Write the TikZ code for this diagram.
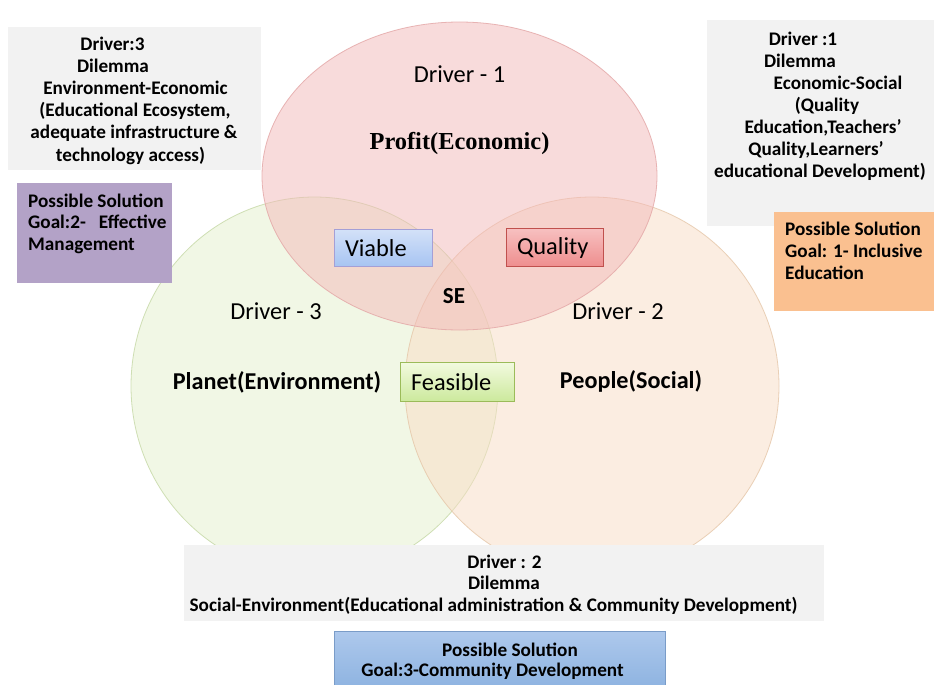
\documentclass[tikz,border=0pt]{standalone}
\usepackage{fontspec}
\setmainfont{Carlito}
\newfontfamily\tnr{Liberation Serif}
\definecolor{grayfill}{HTML}{F2F2F2}
\definecolor{purplefill}{HTML}{B3A2C7}
\definecolor{orangefill}{HTML}{FAC090}
\definecolor{redc}{HTML}{F3B9B9}
\definecolor{redcedge}{HTML}{E3A5A5}
\definecolor{greenc}{HTML}{E5F1CD}
\definecolor{greencedge}{HTML}{C5D8A5}
\definecolor{orangec}{HTML}{F9DDC5}
\definecolor{orangecedge}{HTML}{E5C6A8}
\definecolor{vtop}{HTML}{D3E1F8}
\definecolor{vbot}{HTML}{A7C4F2}
\definecolor{vedge}{HTML}{A49FD6}
\definecolor{qtop}{HTML}{F7C0C0}
\definecolor{qbot}{HTML}{EE8E8E}
\definecolor{qedge}{HTML}{C0504D}
\definecolor{ftop}{HTML}{F2FADF}
\definecolor{fbot}{HTML}{CBE99C}
\definecolor{fedge}{HTML}{9BBB59}
\definecolor{btop}{HTML}{ADC8EC}
\definecolor{bbot}{HTML}{8CB2E0}
\definecolor{bedge}{HTML}{7A9CC8}
\tikzset{
  graybox/.style={rectangle, fill=grayfill, draw=none, inner sep=0pt, anchor=north west},
  boxtxt/.style={inner sep=0pt, font=\fontsize{19.2}{22}\selectfont\bfseries},
  lbl/.style={inner sep=0pt, font=\fontsize{24.4}{28}\selectfont},
  lblb/.style={inner sep=0pt, font=\fontsize{24.2}{28}\selectfont\bfseries},
  tagbox/.style={rectangle, anchor=north west, inner xsep=10.5pt, inner ysep=0pt, align=left,
     font=\fontsize{24.4}{28}\selectfont, line width=1pt},
  venn/.style={fill opacity=0.5, draw opacity=0.8, line width=0.8pt}
}
\begin{document}
\begin{tikzpicture}[x=1pt,y=-1pt]
\useasboundingbox (0,0) rectangle (934,685);
\fill[white] (0,0) rectangle (934,685);
% circles
\draw[venn, fill=greenc, draw=greencedge] (314.5,386) ellipse [x radius=183.5pt, y radius=189pt];
\draw[venn, fill=orangec, draw=orangecedge] (592,386) ellipse [x radius=187pt, y radius=189pt];
\draw[venn, fill=redc, draw=redcedge] (459.5,176) ellipse [x radius=197.5pt, y radius=154pt];
% labels in circles
\node[lbl, anchor=base] (d1) at (459.5,82) {Driver - 1};
\node[inner sep=0pt, anchor=base, font=\fontsize{24.4}{28}\selectfont\tnr\bfseries] (profit) at (459.5,149) {Profit(Economic)};
\node[lbl, anchor=base] (d3) at (276,319) {Driver - 3};
\node[lblb, anchor=base] (planet) at (277,389) {Planet(Environment)};
\node[lbl, anchor=base] (d2) at (618,319) {Driver - 2};
\node[lblb, anchor=base] (people) at (631,388) {People(Social)};
\node[inner sep=0pt, anchor=base, font=\fontsize{23}{26}\selectfont\bfseries] (se) at (454,303) {SE};
% tag boxes
\node[tagbox, top color=vtop, bottom color=vbot, draw=vedge, minimum width=98pt, minimum height=37pt, text width=77pt] (viable) at (334,229) {Viable};
\node[tagbox, top color=qtop, bottom color=qbot, draw=qedge, minimum width=97pt, minimum height=38pt, text width=76pt] (quality) at (506,228) {Quality};
\node[tagbox, top color=ftop, bottom color=fbot, draw=fedge, minimum width=114pt, minimum height=39pt, text width=93pt] (feasible) at (400,362) {Feasible};
% top-left gray box
\node[graybox, minimum width=253pt, minimum height=143pt] (tlbox) at (8,27) {};
\node[boxtxt, anchor=base] (tl1) at (112.5,51) {Driver:3};
\node[boxtxt, anchor=base] (tl2) at (113,72) {Dilemma};
\node[boxtxt, anchor=base] (tl3) at (135.5,94) {Environment-Economic};
\node[boxtxt, anchor=base] (tl4) at (135,116) {(Educational Ecosystem,};
\node[boxtxt, anchor=base] (tl5) at (134,138) {adequate infrastructure \&};
\node[boxtxt, anchor=base] (tl6) at (130.5,161) {technology access)};
% top-right gray box
\node[graybox, minimum width=227pt, minimum height=206pt] (trbox) at (707,20) {};
\node[boxtxt, anchor=base] (tr1) at (803,46) {Driver :1};
\node[boxtxt, anchor=base] (tr2) at (800,67) {Dilemma};
\node[boxtxt, anchor=base] (tr3) at (838,89) {Economic-Social};
\node[boxtxt, anchor=base] (tr4) at (827,111) {(Quality};
\node[boxtxt, anchor=base] (tr5) at (823,133) {Education,Teachers’};
\node[boxtxt, anchor=base] (tr6) at (816,155) {Quality,Learners’};
\node[boxtxt, anchor=base] (tr7) at (820,177) {educational Development)};
% purple box
\node[graybox, fill=purplefill, minimum width=155pt, minimum height=100pt] (pbox) at (17,183) {};
\node[boxtxt, anchor=base west] (p1) at (28,207) {Possible Solution};
\node[boxtxt, anchor=base west] (p2) at (28,228) {Goal:2-\ \ \ Effective};
\node[boxtxt, anchor=base west] (p3) at (28,250) {Management};
% orange box
\node[graybox, fill=orangefill, minimum width=160pt, minimum height=99pt] (obox) at (774,212) {};
\node[boxtxt, anchor=base west] (o1) at (785,235) {Possible Solution};
\node[boxtxt, anchor=base west] (o2) at (785,257) {Goal: 1- Inclusive};
\node[boxtxt, anchor=base west] (o3) at (785,279) {Education};
% bottom gray box
\node[graybox, minimum width=640pt, minimum height=76pt] (bbox) at (184,545) {};
\node[boxtxt, anchor=base] (b1) at (504.5,568) {Driver : 2};
\node[boxtxt, anchor=base] (b2) at (504,589) {Dilemma};
\node[boxtxt, anchor=base] (b3) at (493.5,611) {Social-Environment(Educational administration \& Community Development)};
% blue box
\node[rectangle, anchor=north west, top color=btop, bottom color=bbot, draw=bedge, line width=1pt, minimum width=331pt, minimum height=60pt, inner sep=0pt] (bluebox) at (334,631) {};
\node[boxtxt, anchor=base] (s1) at (510,656) {Possible Solution};
\node[boxtxt, anchor=base] (s2) at (492.5,676) {Goal:3-Community Development};
\end{tikzpicture}
\end{document}
